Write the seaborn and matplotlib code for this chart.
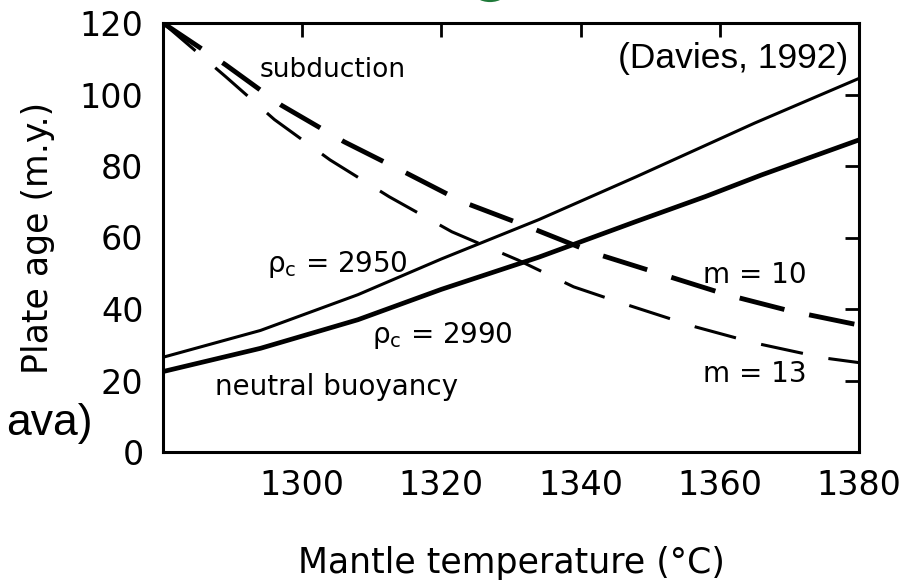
import matplotlib
matplotlib.use("Agg")
import matplotlib.pyplot as plt
from matplotlib.patches import Arc
import seaborn as sns
import pandas as pd

# Neutral-buoyancy age curves for two crustal densities
rho2950_temp = [1280, 1294, 1308, 1320, 1334, 1348, 1365, 1380]
rho2950_age = [26.5, 34.0, 44.0, 54.0, 65.0, 77.0, 92.0, 104.5]
rho2990_temp = [1280, 1294, 1308, 1320, 1334, 1348, 1358, 1366, 1380]
rho2990_age = [22.5, 29.0, 37.0, 45.5, 54.5, 64.5, 71.5, 77.5, 87.3]

# Subduction age curves for two viscosity exponents
m10_temp = [1280, 1289, 1297, 1306, 1315, 1323, 1333, 1342, 1352, 1361, 1370, 1380]
m10_age = [120, 108.3, 97.0, 86.8, 78.0, 70.0, 62.6, 55.6, 49.5, 44.0, 39.5, 35.5]
m13_temp = [1280, 1289, 1296, 1304, 1312.5, 1321.5, 1331, 1339, 1346, 1356.5, 1365, 1375, 1380]
m13_age = [120, 105.0, 93.0, 81.7, 71.4, 61.6, 53.7, 46.2, 41.6, 35.0, 30.5, 26.3, 25.0]

x_ticks = [1300, 1320, 1340, 1360, 1380]
y_ticks = [0, 20, 40, 60, 80, 100, 120]

sns.set_theme(style="white")
plt.rcParams["font.family"] = ["DejaVu Sans"]
plt.rcParams["mathtext.fontset"] = "dejavusans"
plt.rcParams["text.color"] = "black"
plt.rcParams["axes.labelcolor"] = "black"

fig = plt.figure(figsize=(9.16, 5.88), dpi=100)
fig.patch.set_facecolor("white")
ax = fig.add_axes([163 / 916, 1 - 452 / 588, (859 - 163) / 916, (452 - 23) / 588])
ax.set_facecolor("white")

curves = [
    (rho2950_temp, rho2950_age, 2.2, None),
    (rho2990_temp, rho2990_age, 3.4, None),
    (m10_temp, m10_age, 3.5, (9.5, 5.2)),
    (m13_temp, m13_age, 2.2, (14, 8.5)),
]
for temp, age, lw, dash in curves:
    df = pd.DataFrame({"temp": temp, "age": age})
    sns.lineplot(data=df, x="temp", y="age", ax=ax, color="black",
                 linewidth=lw, estimator=None, sort=False)
    line = ax.lines[-1]
    if dash is not None:
        line.set_dashes(dash)
    line.set_solid_capstyle("butt")
    line.set_solid_joinstyle("round")

ax.set_xlim(1280, 1380)
ax.set_ylim(0, 120)
ax.set_xticks(x_ticks)
ax.set_yticks(y_ticks)
ax.set_xticklabels([str(v) for v in x_ticks])
ax.set_yticklabels([str(v) for v in y_ticks])
ax.tick_params(direction="in", top=True, right=True, length=10, width=2,
               labelsize=24, colors="black")
ax.tick_params(axis="y", pad=14)
ax.tick_params(axis="x", pad=12)
for sp in ax.spines.values():
    sp.set_visible(True)
    sp.set_color("black")
    sp.set_linewidth(2.2)

ax.set_xlabel("Mantle temperature (°C)", fontsize=25, va="center", color="black")
ax.set_ylabel("Plate age (m.y.)", fontsize=25, va="center", color="black")
ax.xaxis.set_label_coords(0.5, (452 - 563) / 429)
ax.yaxis.set_label_coords((38 - 163) / 696, 0.5)

rho_lbl = r"$\mathrm{\rho}_\mathrm{c}$"
ax.text(1304.4, 104.9, "subduction", fontsize=19, ha="center", va="baseline", color="black")
ax.text(1294.9, 50.3, rho_lbl + " = 2950", fontsize=20, ha="left", va="baseline", color="black")
ax.text(1310.0, 30.5, rho_lbl + " = 2990", fontsize=20, ha="left", va="baseline", color="black")
ax.text(1304.9, 15.9, "neutral buoyancy", fontsize=20, ha="center", va="baseline", color="black")
ax.text(1357.6, 47.3, "m = 10", fontsize=20, ha="left", va="baseline", color="black")
ax.text(1357.6, 19.6, "m = 13", fontsize=20, ha="left", va="baseline", color="black")

fig.text(848 / 916, 1 - 68 / 588, "(Davies, 1992)", fontsize=25.5,
         family=["Liberation Sans", "DejaVu Sans"], ha="right", va="baseline",
         color="black")
fig.text(93 / 916, 1 - 435 / 588, "ava)", fontsize=32,
         family=["Liberation Sans", "DejaVu Sans"], ha="right", va="baseline",
         color="black")

# bottom edge of a green glyph from the slide above
fig.add_artist(Arc((490 / 916, 1 + 12 / 588), 34 / 916, 24 / 588,
                   theta1=230, theta2=310, transform=fig.transFigure,
                   color="#1f7a3a", lw=3, clip_on=False))

fig.savefig("out.png", dpi=100, facecolor="white")
